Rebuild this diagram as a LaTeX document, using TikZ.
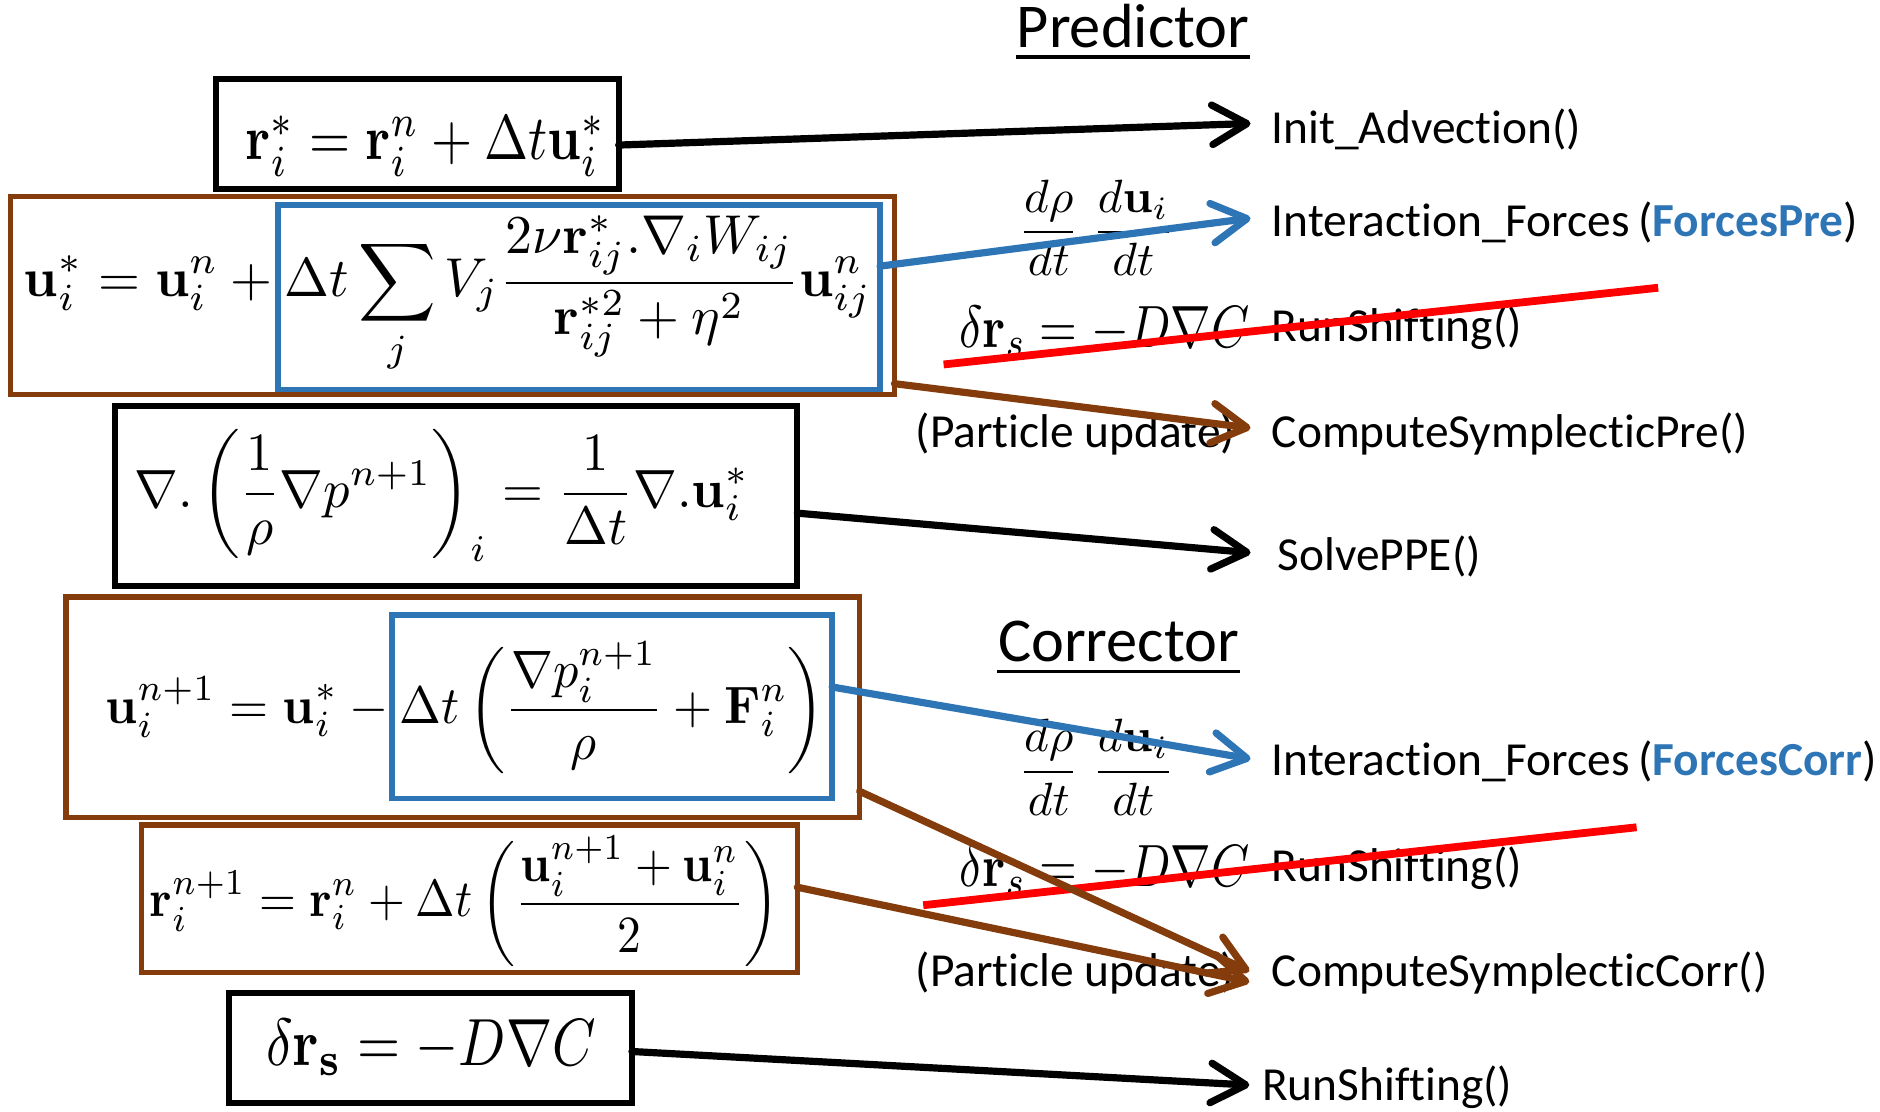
\documentclass[tikz,border=0pt]{standalone}
\usepackage[no-math]{fontspec}
\setmainfont{Carlito}[Ligatures=NoCommon]
\usepackage{graphicx}
\usetikzlibrary{arrows.meta,calc}
\definecolor{brownc}{HTML}{843C0C}
\definecolor{bluec}{HTML}{2E75B6}
\definecolor{redc}{HTML}{FF0000}
\tikzset{
  blackbox/.style={draw=black, line width=0.5mm, inner sep=0pt, outer sep=0pt},
  brownbox/.style={draw=brownc, line width=0.45mm, inner sep=0pt, outer sep=0pt},
  bluebox/.style={draw=bluec, line width=0.45mm, inner sep=0pt, outer sep=0pt},
  eqn/.style={inner sep=0pt, outer sep=0pt},
  lbl/.style={font=\fontsize{11.25}{13}\selectfont, inner sep=0pt, anchor=base west},
  ttl/.style={font=\fontsize{14.8}{17}\selectfont, inner sep=0pt, anchor=base},
  conn/.style={line width=0.6mm, line cap=round, -{Straight Barb[length=2.9mm,width=3.3mm,round]}},
  strike/.style={draw=redc, line width=0.65mm},
  ul/.style={line width=0.3mm}
}
\begin{document}
\begin{tikzpicture}[x=0.1mm,y=-0.1mm]
\useasboundingbox (0,0) rectangle (1568,927);

% ---- equation boxes ----
\node[blackbox, minimum width=33.6mm, minimum height=9.2mm] (e1) at (348,112) {};
\node[brownbox, minimum width=73.7mm, minimum height=16.5mm] (e2) at (377.5,246.5) {};
\node[bluebox, minimum width=50.2mm, minimum height=15.4mm] (b2) at (483,248) {};
\node[blackbox, minimum width=56.9mm, minimum height=15.0mm] (e3) at (380.5,414) {};
\node[brownbox, minimum width=66.2mm, minimum height=18.4mm] (e4) at (386,590) {};
\node[bluebox, minimum width=36.7mm, minimum height=15.3mm] (b4) at (510.5,589.5) {};
\node[brownbox, minimum width=54.7mm, minimum height=12.3mm] (e5) at (391.5,749.5) {};
\node[blackbox, minimum width=33.6mm, minimum height=9.2mm] (e6) at (359,874) {};

% ---- equations ----
\node[eqn] (m1) at (355,122) {\resizebox*{30mm}{5mm}{$\mathbf{r}_i^* = \mathbf{r}_i^n + \Delta t\mathbf{u}_i^*$}};
\node[eqn] (m2) at (373.5,246) {\resizebox*{70.7mm}{13.2mm}{$\displaystyle \mathbf{u}_i^* = \mathbf{u}_i^n + \Delta t\sum_j V_j\frac{2\nu\mathbf{r}_{ij}^*.\nabla_i W_{ij}}{\mathbf{r}_{ij}^{*2}+\eta^2}\mathbf{u}_{ij}^n$}};
\node[eqn] (m3) at (368.5,413) {\resizebox*{51.3mm}{11mm}{$\displaystyle \nabla.\left(\frac{1}{\rho}\nabla p^{n+1}\right)_i = \frac{1}{\Delta t}\nabla.\mathbf{u}_i^*$}};
\node[eqn] (m4) at (388,590) {\resizebox*{60mm}{11mm}{$\displaystyle \mathbf{u}_i^{n+1} = \mathbf{u}_i^* - \Delta t\left(\frac{\nabla p_i^{n+1}}{\rho} + \mathbf{F}_i^n\right)$}};
\node[eqn] (m5) at (387.5,751.5) {\resizebox*{52.5mm}{10.9mm}{$\displaystyle \mathbf{r}_i^{n+1} = \mathbf{r}_i^n + \Delta t\left(\frac{\mathbf{u}_i^{n+1}+\mathbf{u}_i^n}{2}\right)$}};
\node[eqn] (m6) at (359.5,873.5) {\resizebox*{27.5mm}{4.7mm}{$\delta\mathbf{r}_{\mathbf{s}} = -D\nabla C$}};

% ---- titles ----
\node[ttl] (pred) at (945,40) {Predictor};
\draw[ul] ([yshift=-0.75mm]pred.base west) -- ([yshift=-0.75mm]pred.base east);
\node[ttl] (corr) at (933,552) {Corrector};
\draw[ul] ([yshift=-0.8mm]corr.base west) -- ([yshift=-0.8mm]corr.base east);

% ---- small math on the right ----
\node[eqn] (f1) at (914.5,190) {\resizebox*{13mm}{8mm}{$\displaystyle \frac{d\rho}{dt}\;\frac{d\mathbf{u}_i}{dt}$}};
\node[eqn] (f2) at (914.5,640) {\resizebox*{13mm}{8mm}{$\displaystyle \frac{d\rho}{dt}\;\frac{d\mathbf{u}_i}{dt}$}};
\node[eqn] (d1) at (921,276) {\resizebox*{24.2mm}{4.2mm}{$\delta\mathbf{r}_s = -D\nabla C$}};
\node[eqn] (d2) at (921,726) {\resizebox*{24.2mm}{4.2mm}{$\delta\mathbf{r}_s = -D\nabla C$}};

% ---- labels ----
\node[lbl] (init) at (1060,120) {Init\_Advection()};
\node[lbl] (ifp) at (1060,197) {Interaction\_Forces\hspace{2pt}(\textcolor{bluec}{\textbf{ForcesPre}})};
\node[lbl] (rs1) at (1060,285) {RunShifting()};
\node[lbl] (pu1) at (763,373) {(Particle update)};
\node[lbl] (csp) at (1060,373) {ComputeSymplecticPre()};
\node[lbl] (ppe) at (1065,476) {SolvePPE()};
\node[lbl] (ifc) at (1060,647) {Interaction\_Forces\hspace{2pt}(\textcolor{bluec}{\textbf{ForcesCorr}})};
\node[lbl] (rs2) at (1060,735) {RunShifting()};
\node[lbl] (pu2) at (763,823) {(Particle update)};
\node[lbl] (csc) at (1060,823) {ComputeSymplecticCorr()};
\node[lbl] (rs3) at (1052,918) {RunShifting()};

% ---- arrow tips ----
\coordinate (t1) at (1043,103);
\coordinate (t2) at (1043,182);
\coordinate (t3) at (1043,357);
\coordinate (t4) at (1043,461);
\coordinate (t5) at (1043,633);
\coordinate (t6) at (1042,810);
\coordinate (t7) at (1042,819);
\coordinate (t8) at (1042,905);

% ---- strike-through lines ----
\coordinate (s1a) at (787,304);
\coordinate (s1b) at (1383,240);
\coordinate (s2a) at (770,755);
\coordinate (s2b) at (1365,690);
\draw[strike] (s1a) -- (s1b);
\draw[strike] (s2a) -- (s2b);

% ---- connectors ----
\draw[conn, black] ($(e1.east)+(0,9)$) -- (t1);
\draw[conn, bluec] ($(b2.east)+(0,-26)$) -- (t2);
\draw[conn, brownc] ($(e2.east)+(0,73.5)$) -- (t3);
\draw[conn, black] ($(e3.east)+(0,14)$) -- (t4);
\draw[conn, bluec] ($(b4.east)+(0,-16.5)$) -- (t5);
\draw[conn, brownc] ($(e4.east)+(0,70)$) -- (t6);
\draw[conn, brownc] ($(e5.east)+(0,-9.5)$) -- (t7);
\draw[conn, black] ($(e6.east)+(0,3)$) -- (t8);
\end{tikzpicture}
\end{document}
